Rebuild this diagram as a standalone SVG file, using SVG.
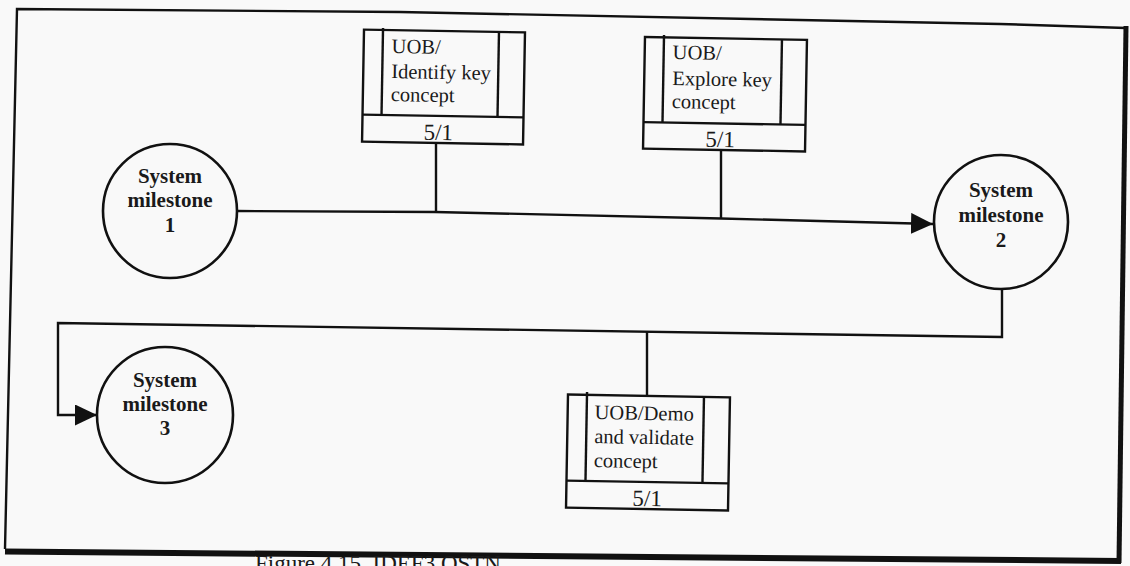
<svg xmlns="http://www.w3.org/2000/svg" width="1130" height="566" viewBox="0 0 1130 566">
  <style>
    .ln { fill: none; stroke: #111; stroke-width: 2.4; }
    .box { fill: none; stroke: #111; stroke-width: 2.4; }
    .circ { fill: none; stroke: #111; stroke-width: 2.6; }
    .bt { font-family: "Liberation Serif", "Times New Roman", serif; font-size: 20.5px; fill: #1a1a1a; }
    .num { font-family: "Liberation Serif", "Times New Roman", serif; font-size: 23px; fill: #1a1a1a; text-anchor: middle; }
    .ct { font-family: "Liberation Serif", "Times New Roman", serif; font-size: 21px; font-weight: bold; fill: #1a1a1a; text-anchor: middle; }
    .cap { font-family: "Liberation Serif", "Times New Roman", serif; font-size: 23px; fill: #1a1a1a; }
  </style>
  <defs>
    <marker id="arr" markerUnits="userSpaceOnUse" markerWidth="24" markerHeight="22" refX="22" refY="10.5" orient="auto">
      <path d="M0,0 L22,10.5 L0,21 z" fill="#111"/>
    </marker>
  </defs>

  <rect x="0" y="0" width="1130" height="566" fill="#f9f9f9"/>

  <g id="frame">
    <polyline class="ln" stroke-width="2.2" points="5,549 17,9 400,12 1000,24 1126,28"/>
    <line x1="1126" y1="26" x2="1119" y2="563" stroke="#111" stroke-width="5"/>
    <line x1="5" y1="551.5" x2="1121" y2="561" stroke="#111" stroke-width="6"/>
  </g>

  <g id="connectors">
    <polyline class="ln" points="237,211 435,212 721,218.5 933,224" marker-end="url(#arr)"/>
    <line class="ln" x1="436" y1="144" x2="436" y2="212.5"/>
    <line class="ln" x1="721" y1="151" x2="721" y2="218.5"/>
    <polyline class="ln" points="1002,288 1002,337 58,323 58,415 97,415" marker-end="url(#arr)"/>
    <line class="ln" x1="647" y1="331" x2="647" y2="395"/>
  </g>

  <g id="box-identify" transform="rotate(1 443 88)">
    <rect class="box" x="363" y="31" width="161" height="112"/>
    <line class="ln" x1="363" y1="116" x2="524" y2="116"/>
    <line class="ln" x1="382" y1="29" x2="382" y2="116"/>
    <line class="ln" x1="498" y1="31" x2="498" y2="116"/>
    <text class="bt" x="391" y="54">UOB/</text>
    <text class="bt" x="391" y="79">Identify key</text>
    <text class="bt" x="391" y="102">concept</text>
    <text class="num" x="439" y="140">5/1</text>
  </g>

  <g id="box-explore" transform="rotate(1 725 94)">
    <rect class="box" x="644" y="38.5" width="162" height="111.5"/>
    <line class="ln" x1="644" y1="123.5" x2="806" y2="123.5"/>
    <line class="ln" x1="663" y1="36" x2="663" y2="123.5"/>
    <line class="ln" x1="781" y1="38.5" x2="781" y2="123.5"/>
    <text class="bt" x="672" y="60">UOB/</text>
    <text class="bt" x="672" y="86">Explore key</text>
    <text class="bt" x="672" y="109">concept</text>
    <text class="num" x="721" y="147">5/1</text>
  </g>

  <g id="box-demo" transform="rotate(1 648 452)">
    <rect class="box" x="567" y="396" width="162" height="113"/>
    <line class="ln" x1="567" y1="482" x2="729" y2="482"/>
    <line class="ln" x1="586" y1="393" x2="586" y2="482"/>
    <line class="ln" x1="703" y1="396" x2="703" y2="482"/>
    <text class="bt" x="594" y="420">UOB/Demo</text>
    <text class="bt" x="594" y="444">and validate</text>
    <text class="bt" x="594" y="468">concept</text>
    <text class="num" x="648" y="506">5/1</text>
  </g>

  <g id="milestone-1">
    <circle class="circ" cx="170" cy="211" r="67"/>
    <text class="ct" x="170" y="183">System</text>
    <text class="ct" x="170" y="207">milestone</text>
    <text class="ct" x="170" y="232">1</text>
  </g>

  <g id="milestone-2">
    <circle class="circ" cx="1001" cy="222" r="67"/>
    <text class="ct" x="1001" y="197">System</text>
    <text class="ct" x="1001" y="222">milestone</text>
    <text class="ct" x="1001" y="247">2</text>
  </g>

  <g id="milestone-3">
    <circle class="circ" cx="165" cy="415" r="68"/>
    <text class="ct" x="165" y="387">System</text>
    <text class="ct" x="165" y="411">milestone</text>
    <text class="ct" x="165" y="435">3</text>
  </g>

  <text class="cap" x="255" y="571">Figure 4.15. IDEF3 OSTN</text>
</svg>
